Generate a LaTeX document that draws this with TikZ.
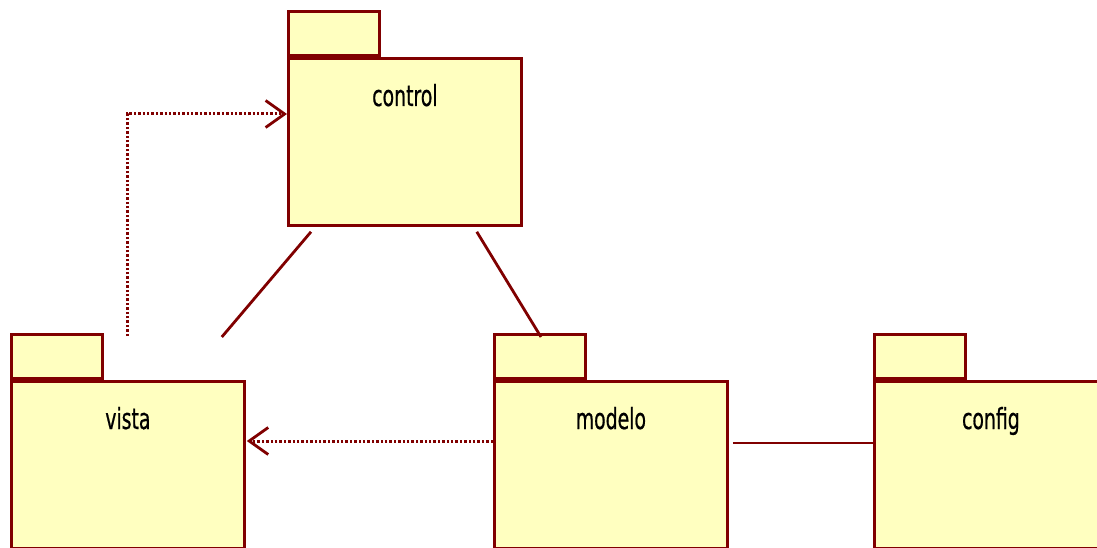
\documentclass[tikz,border=0pt]{standalone}
\usepackage{fontspec}
\newfontfamily\pkgfont[FakeStretch=0.65,FakeBold=0.6]{DejaVu Sans}
\usepackage{tikz}
\usetikzlibrary{arrows.meta,positioning,calc}
\definecolor{pkgred}{RGB}{128,0,0}
\definecolor{pkgyellow}{RGB}{255,255,192}

\begin{document}
\begin{tikzpicture}
	 [x=1pt,y=-1pt,
	  pkg/.style={draw=pkgred,fill=pkgyellow,line width=2.8pt,inner sep=0pt,
	    minimum width=233pt,minimum height=167pt,anchor=north west},
	  pkgtab/.style={draw=pkgred,fill=pkgyellow,line width=2.8pt,inner sep=0pt,
	    minimum width=91pt,minimum height=44pt,anchor=south west},
	  pkgname/.style={font=\pkgfont\fontsize{29}{30}\selectfont,inner sep=0pt,anchor=base},
	  assoc/.style={draw=pkgred,line width=2.8pt},
	  dep/.style={draw=pkgred,line width=3pt,dash pattern=on 2.4pt off 2pt,
	    -{Straight Barb[length=19pt,width=27pt,line width=2.8pt]}}]
	\useasboundingbox (0,0) rectangle (1097,548);

	  \node[pkg] (ctrl) at (287,57) {};
	  \node[pkg] (vista) at (10,380) {};
	  \node[pkg] (modelo) at (493,380) {};
	  \node[pkg] (config) at (873,380) {};

	\foreach \p in {ctrl,vista,modelo,config}
    \node[pkgtab] at (\p.north west) {};

	  \node[pkgname] at ($(ctrl.north)+(0,49)$) {control};
	  \node[pkgname] at ($(vista.north)+(0,49)$) {vista};
	  \node[pkgname] at ($(modelo.north)+(0,49)$) {modelo};
	  \node[pkgname] at ($(config.north)+(0,49)$) {config};

%	free ends of the connectors
	  \coordinate (cv1) at ($(ctrl.south west)+(24,5)$);
	  \coordinate (cv2) at ($(vista.north east)+(-24,-43)$);
	  \coordinate (cm1) at ($(ctrl.south east)+(-46,5)$);
	  \coordinate (cm2) at ($(modelo.north west)+(48,-43)$);
	  \coordinate (mc1) at ($(modelo.north east)+(4,63)$);
	  \coordinate (mc2) at ($(config.north west)+(0,63)$);

	\foreach \from/\to in {cv1/cv2,cm1/cm2,mc1/mc2}
    \draw[assoc] (\from) -- (\to);

	  \coordinate (vd) at ($(vista.north west)+(117,-44)$);
	  \coordinate (cin) at ($(ctrl.north west)+(0,57)$);
	  \coordinate (md) at ($(modelo.north west)+(0,61)$);
	  \coordinate (vin) at ($(vista.north east)+(1,61)$);

    \draw[dep] (vd) |- (cin);
    \draw[dep] (md) -- (vin);

\end{tikzpicture}
\end{document}
